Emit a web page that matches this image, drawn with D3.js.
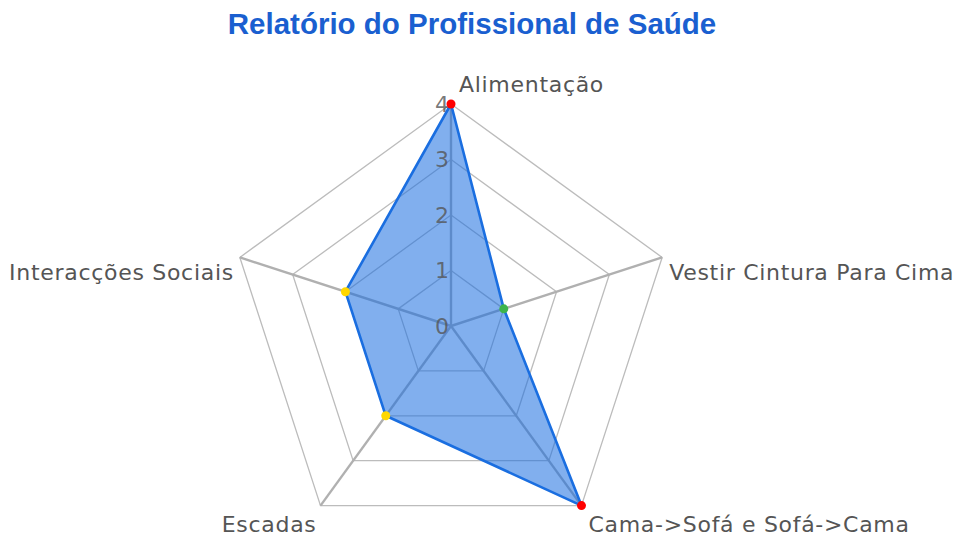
<!DOCTYPE html>
<html>
<head>
<meta charset="utf-8">
<script src="https://cdn.jsdelivr.net/npm/d3@7"></script>
<style>
  body { margin: 0; background: #fff; }
  svg text { font-family: "DejaVu Sans", Verdana, sans-serif; }
</style>
</head>
<body>
<svg></svg>
<script>
const width = 958;
const height = 537;

const categories = ["Alimentação", "Vestir Cintura Para Cima", "Cama->Sofá e Sofá->Cama", "Escadas", "Interacções Sociais"];
const values = [4, 1, 4, 2, 2];
const pointColors = ["#ff0000", "#3cb44b", "#ff0000", "#ffd700", "#ffd700"];
const ticks = [0, 1, 2, 3, 4];

const center = [451, 326];
const radius = 222;

const svg = d3.select("svg").attr("width", width).attr("height", height);

const r = d3.scaleLinear().domain([0, 4]).range([0, radius]);
const angle = d3.scaleLinear().domain([0, categories.length]).range([0, 2 * Math.PI]);

function pt(i, v) {
  const a = angle(i);
  return [center[0] + r(v) * Math.sin(a), center[1] - r(v) * Math.cos(a)];
}

svg.append("text")
  .attr("x", 472).attr("y", 34)
  .attr("text-anchor", "middle")
  .style("font-family", "'Liberation Sans', Arial, sans-serif")
  .style("font-weight", "bold")
  .style("font-size", "29.5px")
  .style("fill", "#1a5fd0")
  .text("Relatório do Profissional de Saúde");

const grid = svg.append("g");

// rings
ticks.slice(1).forEach(t => {
  grid.append("path")
    .attr("d", d3.line()(categories.map((c, i) => pt(i, t))) + "Z")
    .attr("fill", "none")
    .attr("stroke", "#bcbcbc")
    .attr("stroke-width", 1.3);
});

// spokes
categories.forEach((c, i) => {
  grid.append("line")
    .attr("x1", center[0]).attr("y1", center[1])
    .attr("x2", pt(i, 4)[0]).attr("y2", pt(i, 4)[1])
    .attr("stroke", "#b0b0b0")
    .attr("stroke-width", 2.4);
});

// data polygon
svg.append("path")
  .attr("d", d3.line()(values.map((v, i) => pt(i, v))) + "Z")
  .attr("fill", "#1a6ee0")
  .attr("fill-opacity", 0.55)
  .attr("stroke", "#1a6ee0")
  .attr("stroke-width", 2.6)
  .attr("stroke-linejoin", "round");

// tick labels
svg.append("g").selectAll("text")
  .data(ticks)
  .join("text")
  .attr("x", center[0] - 2)
  .attr("y", d => center[1] - r(d))
  .attr("dy", "0.35em")
  .attr("text-anchor", "end")
  .style("font-size", "22px")
  .style("fill", "#555")
  .style("fill-opacity", 0.8)
  .text(d => d);

// points
svg.append("g").selectAll("circle")
  .data(values)
  .join("circle")
  .attr("cx", (d, i) => pt(i, d)[0])
  .attr("cy", (d, i) => pt(i, d)[1])
  .attr("r", 4.5)
  .attr("fill", (d, i) => pointColors[i]);

// category labels
const labelPos = [
  { dx: 8, dy: -20, anchor: "start" },
  { dx: 7, dy: 15, anchor: "start" },
  { dx: 7, dy: 19, anchor: "start" },
  { dx: -4, dy: 19, anchor: "end" },
  { dx: -6, dy: 15, anchor: "end" }
];
svg.append("g").selectAll("text")
  .data(categories)
  .join("text")
  .attr("x", (d, i) => pt(i, 4)[0] + labelPos[i].dx)
  .attr("y", (d, i) => pt(i, 4)[1] + labelPos[i].dy)
  .attr("dy", "0.35em")
  .attr("text-anchor", (d, i) => labelPos[i].anchor)
  .style("font-size", "22px")
  .style("letter-spacing", "0.7px")
  .style("fill", "#555")
  .text(d => d);
</script>
</body>
</html>
